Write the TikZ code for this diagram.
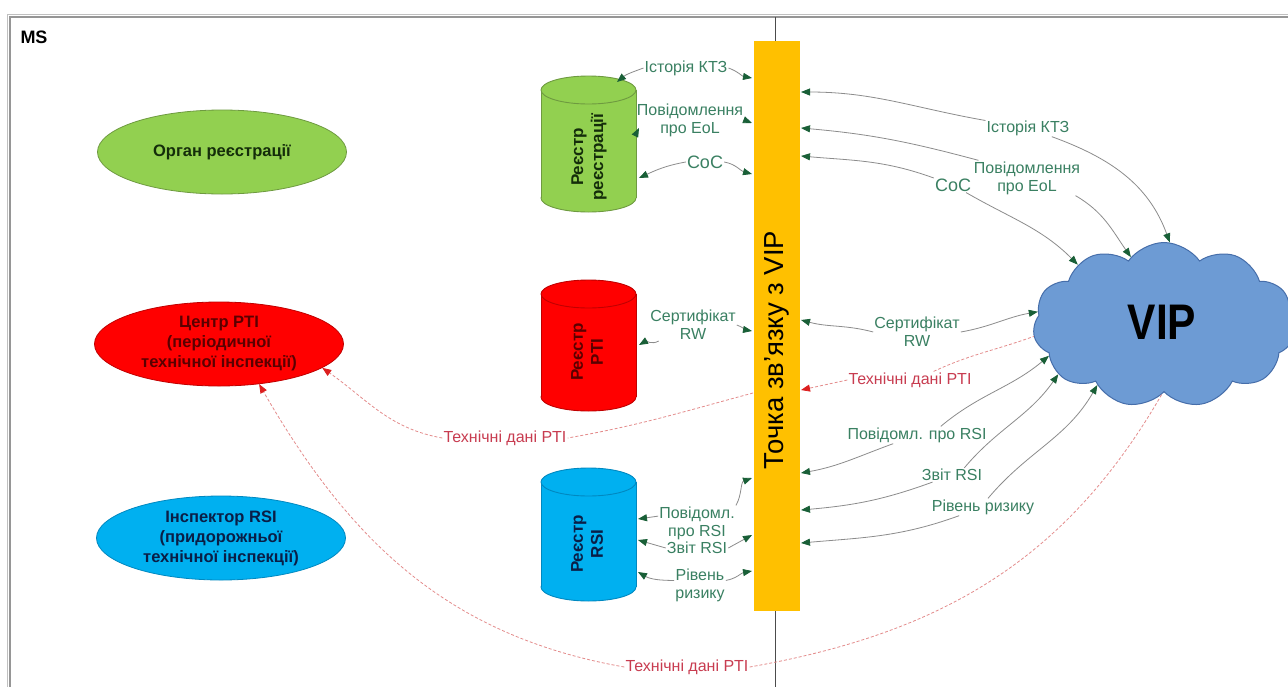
\documentclass[tikz,border=0pt]{standalone}
\usepackage{fontspec}
\setmainfont{Liberation Sans}
\newfontfamily\vipfont[FakeStretch=0.85]{Liberation Sans}
\usetikzlibrary{shapes.geometric,shapes.symbols,arrows.meta}
\definecolor{elgreen}{HTML}{92D050}
\definecolor{elgreendk}{HTML}{6E9A40}
\definecolor{elred}{HTML}{FF0000}
\definecolor{elreddk}{HTML}{C00000}
\definecolor{elblue}{HTML}{00B0F0}
\definecolor{elbluedk}{HTML}{0088C0}
\definecolor{barorange}{HTML}{FFC000}
\definecolor{cloudfill}{RGB}{109,155,212}
\definecolor{cloudborder}{RGB}{70,110,170}
\definecolor{lblgreen}{RGB}{58,128,98}
\definecolor{tipgreen}{RGB}{25,95,55}
\definecolor{linegray}{RGB}{140,140,140}
\definecolor{lblred}{RGB}{200,60,80}
\definecolor{dashred}{RGB}{228,140,140}
\definecolor{tipred}{RGB}{220,30,30}
\definecolor{txtgreen}{RGB}{20,45,10}
\definecolor{txtred}{RGB}{90,0,0}
\definecolor{txtblue}{RGB}{10,30,70}
\definecolor{framegray}{RGB}{150,150,150}
\newcommand\drawcyl[4]{%
  \filldraw[fill=#3,draw=#4,line width=0.9pt] (588.5,{-(#2-14)}) ellipse[x radius=47.5,y radius=14];
  \fill[#3] (541,{-(#1+14)}) rectangle (636,{-(#2-14)});
  \draw[#4,line width=0.9pt] (541,{-(#1+14)}) -- (541,{-(#2-14)}) (636,{-(#1+14)}) -- (636,{-(#2-14)});
  \filldraw[fill=#3,draw=#4,line width=0.9pt] (588.5,{-(#1+14)}) ellipse[x radius=47.5,y radius=14];
}
\begin{document}
\begin{tikzpicture}[x=1pt,y=1pt,
  lbl/.style={font=\fontsize{16}{18}\selectfont, text=lblgreen, align=center, inner sep=1pt},
  biglbl/.style={lbl, font=\fontsize{18}{20}\selectfont},
  rlbl/.style={font=\fontsize{16}{18}\selectfont, text=lblred, align=center, inner sep=1pt},
  ell/.style={ellipse, line width=0.8pt, minimum width=249, minimum height=84, inner sep=0pt, align=center, font=\bfseries\fontsize{16.5}{20}\selectfont},
  cyltxt/.style={rotate=90, align=center, font=\bfseries\fontsize{17}{20}\selectfont},
  con/.style={draw=linegray, line width=0.8pt, -{Triangle[length=9pt,width=7pt,color=tipgreen]}},
  rcon/.style={draw=dashred, line width=0.8pt, dash pattern=on 3pt off 2pt, -{Triangle[length=9pt,width=7pt,color=tipred]}},
  rln/.style={draw=dashred, line width=0.8pt, dash pattern=on 3pt off 2pt},
]
\fill[white] (0,0) rectangle (1288,-686);
\useasboundingbox (0,0) rectangle (1288,-686);
% frame
\draw[framegray!60, line width=1pt] (7,-700) -- (7,-14) -- (1300,-14);
\draw[framegray, line width=1.2pt] (10,-700) -- (10,-17) -- (1300,-17);
\draw[black!70, line width=0.8pt] (775,-17) -- (775,-700);
\node[font=\bfseries\fontsize{18}{20}\selectfont] (ms) at (34,-37) {MS};

% ellipses
\node[ell, fill=elgreen, draw=elgreendk, text=txtgreen] (organ) at (222,-152) {Орган реєстрації};
\node[ell, fill=elred, draw=elreddk, text=txtred] (pti) at (219,-344) {Центр PTI\\(періодичної\\технічної інспекції)};
\node[ell, fill=elblue, draw=elbluedk, text=txtblue] (rsi) at (221,-538) {Інспектор RSI\\(придорожньої\\технічної інспекції)};

% cylinders
\drawcyl{76}{212}{elgreen}{elgreendk}
\drawcyl{280}{411}{elred}{elreddk}
\drawcyl{468}{601}{elblue}{elbluedk}
\node[cyltxt, text=txtgreen] (regreg) at (589,-157) {Реєстр\\реєстрації};
\node[cyltxt, text=txtred] (regpti) at (587,-352) {Реєстр\\PTI};
\node[cyltxt, text=txtblue] (regrsi) at (587,-544) {Реєстр\\RSI};

% bar
\node[fill=barorange, minimum width=46, minimum height=570, inner sep=0pt] (bar) at (776.5,-326) {};
\node[rotate=90, font=\fontsize{27.5}{30}\selectfont] (bartext) at (776.5,-350) {Точка зв’язку з VIP};

% cloud
\node[cloud, cloud puffs=11, cloud puff arc=110, cloud ignores aspect, minimum width=262, minimum height=165, fill=cloudfill, draw=cloudborder, line width=1pt] (vip) at (1164,-325) {};
\node[font=\vipfont\bfseries\fontsize{50}{52}\selectfont] (viptext) at (1162,-322) {VIP};

% end coordinates
\coordinate (gL1) at (617,-82);
\coordinate (gL2) at (639,-128);
\coordinate (gL3) at (639,-178);
\coordinate (rL4) at (639,-345);
\coordinate (sL5) at (638,-519);
\coordinate (sL6) at (638,-540);
\coordinate (sL7) at (638,-572);
\coordinate (bL1) at (752,-78);
\coordinate (bL2) at (752,-123);
\coordinate (bL3) at (752,-174);
\coordinate (bL4) at (752,-331);
\coordinate (bL5) at (752,-478);
\coordinate (bL6) at (752,-535);
\coordinate (bL7) at (752,-571);
\coordinate (bR1) at (801,-92);
\coordinate (bR2) at (801,-128);
\coordinate (bR3) at (801,-156);
\coordinate (bR4) at (801,-320);
\coordinate (bR5) at (801,-390);
\coordinate (bR6) at (801,-473);
\coordinate (bR7) at (801,-510);
\coordinate (bR8) at (801,-543);
\coordinate (bRed) at (753,-393);

% left labels
\node[lbl] (L1) at (686,-68) {Історія КТЗ};
\node[lbl] (L2) at (690,-120) {Повідомлення\\про EoL};
\node[biglbl] (L3) at (705,-162) {CoC};
\node[lbl] (L4) at (693,-325) {Сертифікат\\RW};
\node[lbl] (L5) at (697,-523) {Повідомл.\\про RSI};
\node[lbl] (L6) at (697,-548) {Звіт RSI};
\node[lbl] (L7) at (700,-585) {Рівень\\ризику};

% right labels
\node[lbl] (R1) at (1028,-128) {Історія КТЗ};
\node[lbl] (R2) at (1027,-178) {Повідомлення\\про EoL};
\node[biglbl] (R3) at (953,-185) {CoC};
\node[lbl] (R4) at (917,-332) {Сертифікат\\RW};
\node[rlbl] (R5) at (910,-380) {Технічні дані PTI};
\node[lbl] (R6) at (917,-435) {Повідомл. про RSI};
\node[lbl] (R7) at (952,-475) {Звіт RSI};
\node[lbl] (R8) at (983,-507) {Рівень ризику};
\node[rlbl] (TL) at (505,-438) {Технічні дані PTI};
\node[rlbl] (TB) at (687,-667) {Технічні дані PTI};

% left connectors
\draw[con] (L1.west) to[out=200,in=40] (gL1);
\draw[con] (L1.east) to[out=-20,in=170] (bL1);
\draw[con] (L2.195) -- (gL2);
\draw[con] (L2.east) -- (bL2);
\draw[con] (L3.west) to[out=190,in=25] (gL3);
\draw[con] (L3.east) to[out=-10,in=165] (bL3);
\draw[con] (L4.205) to[out=210,in=30] (rL4);
\draw[con] (L4.east) to[out=-20,in=170] (bL4);
\draw[con] (L5.170) -- (sL5);
\draw[con] (L5.north east) to[out=60,in=200] (bL5);
\draw[con] (L6.west) -- (sL6);
\draw[con] (L6.east) -- (bL6);
\draw[con] (L7.170) to[out=180,in=-30] (sL7);
\draw[con] (L7.10) to[out=10,in=190] (bL7);

% right connectors
\draw[con] (R1.170) to[out=170,in=0] (bR1);
\draw[con] (R1.-20) to[out=-20,in=110] (vip.86);
\draw[con] (R2.160) to[out=165,in=-5] (bR2);
\draw[con] (R2.-20) to[out=-30,in=125] (vip.116);
\draw[con] (R3.160) to[out=160,in=-5] (bR3);
\draw[con] (R3.-30) to[out=-30,in=135] (vip.145);
\draw[con] (R4.west) to[out=165,in=-15] (bR4);
\draw[con] (R4.east) to[out=10,in=190] (vip.174);
\draw[rcon] (R5.west) -- (bR5);
\draw[rln] (R5.20) to[out=25,in=200] (vip.185);
\draw[con] (R6.200) to[out=200,in=10] (bR6);
\draw[con] (R6.20) to[out=40,in=220] (vip.195);
\draw[con] (R7.200) to[out=200,in=5] (bR7);
\draw[con] (R7.30) to[out=50,in=235] (vip.205);
\draw[con] (R8.200) to[out=200,in=5] (bR8);
\draw[con] (R8.60) to[out=50,in=240] (vip.222);

% red PTI data
\draw[rln] (bRed) to[out=195,in=10] (TL.east);
\draw[rcon] (TL.west) to[out=170,in=-35] (pti.-13);
\draw[rln] (vip.268) to[out=240,in=10] (TB.east);
\draw[rcon] (TB.west) to[out=170,in=-60] (pti.-45);
\end{tikzpicture}
\end{document}
